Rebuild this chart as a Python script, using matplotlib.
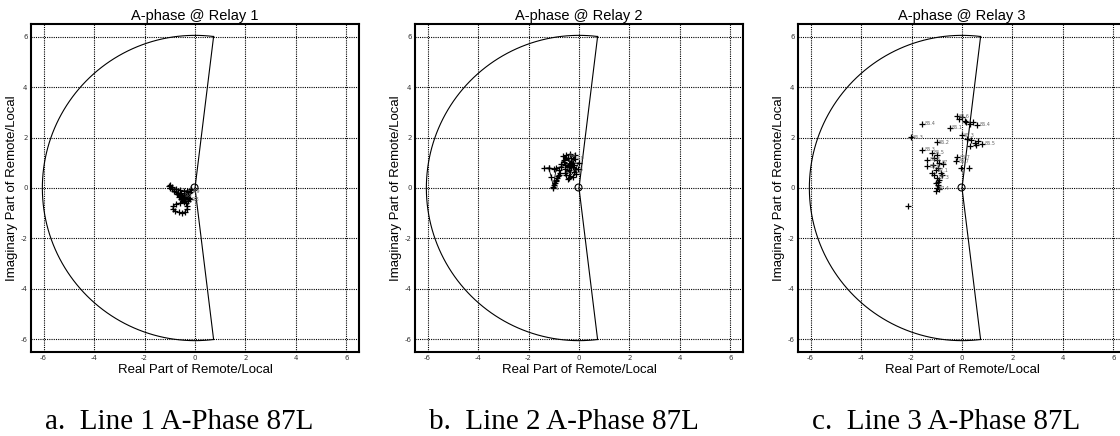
import numpy as np
import matplotlib
matplotlib.use('Agg')
import matplotlib.pyplot as plt

plt.rcParams['axes.unicode_minus'] = False

# Характеристика (alpha plane): радиус дуги и угол лучей
alpha_radius = 6.05
alpha_angle = 83.0

titles = ['A-phase @ Relay 1', 'A-phase @ Relay 2', 'A-phase @ Relay 3']
captions = ['a.  Line 1 A-Phase 87L', 'b.  Line 2 A-Phase 87L', 'c.  Line 3 A-Phase 87L']
ticks = [-6, -4, -2, 0, 2, 4, 6]

# Relay 1 – траектория Remote/Local
r1_re = [-0.15, -0.3, -0.45, -0.6, -0.75, -0.9, -1.0, -1.05, -0.98, -0.9, -0.82, -0.75,
         -0.68, -0.6, -0.55, -0.5, -0.45, -0.4, -0.35, -0.3, -0.25, -0.2, -0.28, -0.38,
         -0.48, -0.45, -0.6, -0.75, -0.86, -0.88, -0.78, -0.65, -0.52, -0.4, -0.32, -0.3,
         -0.35, -0.45, -0.55, -0.62, -0.7, -0.58, -0.46, -0.35, -0.25, -0.18]
r1_im = [-0.05, -0.1, -0.12, -0.08, -0.02, 0.05, 0.1, 0.08, 0.0, -0.05, -0.1, -0.15,
         -0.2, -0.25, -0.2, -0.3, -0.35, -0.28, -0.22, -0.3, -0.38, -0.45, -0.5, -0.42,
         -0.48, -0.55, -0.6, -0.62, -0.72, -0.85, -0.92, -0.97, -0.98, -0.95, -0.85, -0.72,
         -0.6, -0.5, -0.42, -0.35, -0.25, -0.32, -0.4, -0.3, -0.2, -0.15]
r1_lbl = ['', '', '', '', '', '', '', '', '', '', '', '', '', '', '', '9.5',
          '', '', '', '', '', '9.8', '', '', '', '', '', '', '', '', '', '', '', '',
          '', '', '', '', '', '', '', '', '', '', '', '9.9']

# Relay 2
r2_re = [-1.02, -1.0, -0.97, -0.93, -0.9, -0.86, -0.82, -0.78, -0.75, -0.8, -1.0, -1.2,
         -1.38, -1.2, -1.1, -1.02, -0.9, -0.7, -0.55, -0.4, -0.6, -0.5, -0.7, -0.45,
         -0.3, -0.55, -0.4, -0.2, -0.65, -0.35, -0.15, -0.5, -0.25, -0.05, -0.6, -0.3,
         -0.1, -0.45, -0.2, 0.0, -0.35, -0.55, -0.15, -0.4, -0.25]
r2_im = [0.0, 0.1, 0.18, 0.26, 0.33, 0.4, 0.46, 0.52, 0.58, 0.7, 0.76, 0.8,
         0.78, 0.78, 0.45, 0.05, 0.8, 0.85, 0.9, 0.82, 1.1, 1.3, 0.95, 1.2,
         1.0, 0.6, 0.7, 0.9, 1.25, 1.35, 1.15, 0.5, 0.45, 0.75, 1.05, 1.2,
         0.55, 0.35, 0.65, 1.0, 0.95, 0.75, 1.3, 0.4, 0.85]
r2_lbl = ['1', '', '', '', '', '', '', '', '', '', '', '', '', '', '', '', '', '',
          '', '', '', '4.4', '', '', '', '', '', '', '', '', '4.9',
          '', '', '5', '', '', '', '', '', '', '', '', '', '', '']

# Relay 3 – только маркеры
r3_re = [-1.57, -2.03, -1.01, -1.57, -2.16, -0.49, -0.2, -0.1, 0.0, 0.1, 0.15, 0.3,
         0.45, 0.6, 0.2, 0.35, 0.5, 0.65, 0.8, 0.3, 0.55, 0.0, -0.18, -0.22, -0.05,
         0.28, -1.37, -1.37, -1.2, -1.1, -1.0, -0.9, -1.15, -1.05, -0.95, -0.85, -1.1,
         -1.0, -0.9, -1.05, -0.95, -1.0, -0.9, -0.8, -1.2, -1.0, -0.75, -1.05, -0.95]
r3_im = [2.55, 2.01, 1.82, 1.52, -0.73, 2.38, 2.85, 2.75, 2.8, 2.65, 2.6, 2.55,
         2.6, 2.5, 1.95, 1.9, 1.8, 1.85, 1.75, 1.65, 1.7, 2.1, 1.22, 1.06, 0.79,
         0.79, 1.12, 0.86, 1.4, 1.2, 1.3, 1.0, 0.9, 0.7, 0.8, 0.6, 0.5,
         0.4, 0.3, 0.2, 0.1, 0.0, -0.05, 0.5, 0.6, 1.1, 0.95, -0.1, 0.25]
r3_lbl = ['86.4', '86.3', '86.2', '86.3', '', '86.1', '86.6', '', '', '', '', '',
          '', '86.4', '', '', '', '', '86.5', '', '', '86.3', '86.7', '86.7', '',
          '', '86.8', '86.9', '86.5', '', '', '87', '', '87.1', '', '', '',
          '87.3', '', '', '', '87.4', '', '', '', '', '', '', '']

relays = [(r1_re, r1_im, r1_lbl, True),
          (r2_re, r2_im, r2_lbl, True),
          (r3_re, r3_im, r3_lbl, False)]

fig = plt.figure(figsize=(11.2, 4.36), dpi=100)
W, H = 1120.0, 436.0
lefts = [31, 415, 798]
cap_x = [45, 429, 812]

th = np.radians(np.linspace(alpha_angle, 360 - alpha_angle, 300))
arc_x = alpha_radius * np.cos(th)
arc_y = alpha_radius * np.sin(th)

for i, (re, im, lbl, joined) in enumerate(relays):
    ax = fig.add_axes([lefts[i] / W, (H - 352) / H, 328 / W, 328 / H])
    # граница области
    ax.plot(arc_x, arc_y, color='black', lw=0.8)
    ax.plot([arc_x[0], 0, arc_x[-1]], [arc_y[0], 0, arc_y[-1]], color='black', lw=0.8)
    ax.plot([-0.05], [0.05], 'o', mfc='none', mec='black', ms=5, mew=0.8)
    # точки
    ax.plot(re, im, '+', ls='-' if joined else 'none', color='black', lw=0.6, ms=5, mew=0.9)
    for x, y, s in zip(re, im, lbl):
        if s:
            ax.text(x + 0.08, y, s, fontsize=3.5, color='#666666', va='center')

    ax.set_xlim(-6.5, 6.5)
    ax.set_ylim(-6.5, 6.5)
    ax.set_xticks(ticks)
    ax.set_yticks(ticks)
    ax.grid(True, color='black', ls=(0, (1, 1)), lw=0.8)
    ax.tick_params(labelsize=5, length=0, pad=2.5, colors='#333333')
    for sp in ax.spines.values():
        sp.set_linewidth(1.5)
    ax.set_title(titles[i], fontsize=10.5, family='Liberation Sans', pad=3)
    ax.set_xlabel('Real Part of Remote/Local', fontsize=9.5, family='Liberation Sans', labelpad=1.5)
    ax.set_ylabel('Imaginary Part of Remote/Local', fontsize=9.5, family='Liberation Sans', labelpad=2)

    fig.text(cap_x[i] / W, (H - 422) / H, captions[i], fontsize=21,
             family='Liberation Serif', ha='left', va='center')

fig.savefig('out.png', dpi=100)
